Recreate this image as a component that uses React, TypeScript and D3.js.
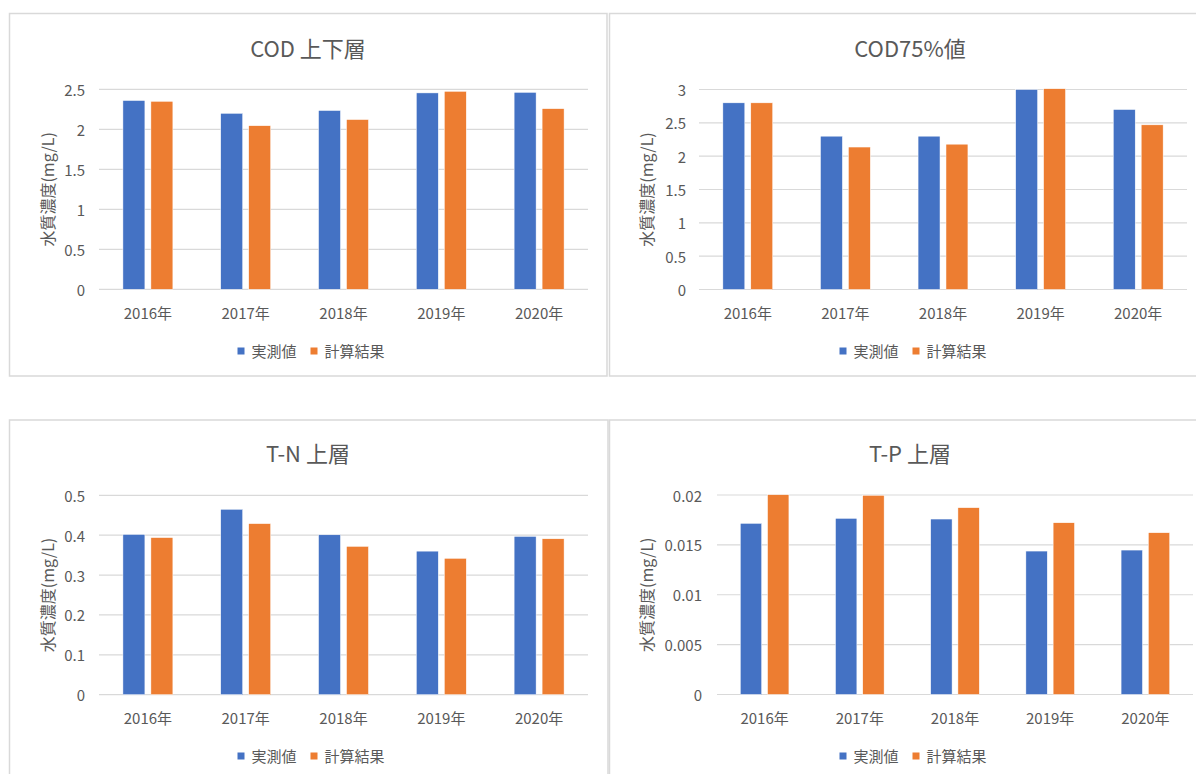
import React from 'react';
import * as d3 from 'd3';

// Categories and series
const years = ['2016年', '2017年', '2018年', '2019年', '2020年'];
const seriesNames = ['実測値', '計算結果'];
const seriesColors = ['#4472C4', '#ED7D31'];

// COD (upper and lower layers)
const codLayersObs = [2.36, 2.2, 2.235, 2.455, 2.462];
const codLayersCalc = [2.35, 2.045, 2.122, 2.475, 2.258];
// COD 75% value
const cod75Obs = [2.8, 2.3, 2.3, 3.0, 2.7];
const cod75Calc = [2.8, 2.137, 2.18, 3.012, 2.47];
// T-N upper layer
const tnObs = [0.402, 0.465, 0.401, 0.36, 0.397];
const tnCalc = [0.394, 0.429, 0.372, 0.342, 0.391];
// T-P upper layer
const tpObs = [0.01716, 0.01766, 0.01759, 0.01438, 0.01448];
const tpCalc = [0.02003, 0.01997, 0.01873, 0.01722, 0.01622];

const yTitle = '水質濃度(mg/L)';
const FONT = '"Noto Sans CJK JP", "Noto Sans", sans-serif';
const TEXT = '#595959';
const GRID = '#d9d9d9';

type PanelProps = {
  title: string;
  obs: number[];
  calc: number[];
  max: number;
  step: number;
  frame: { x: number; y: number; w: number; h: number };
  plot: { left: number; right: number; top: number; bottom: number };
  centerX: number;
  titleY: number;
  tickRight: number;
  yLabelX: number;
  catY: number;
  legendY: number;
};

function Panel(p: PanelProps) {
  const y = d3.scaleLinear().domain([0, p.max]).range([p.plot.bottom, p.plot.top]);
  const x0 = d3
    .scaleBand<string>()
    .domain(years)
    .range([p.plot.left, p.plot.right])
    .paddingInner(0.489)
    .paddingOuter(0.2445);
  const x1 = d3
    .scaleBand<string>()
    .domain(seriesNames)
    .range([0, x0.bandwidth()])
    .paddingInner(0.214);
  const ticks = d3.range(0, p.max + p.step / 2, p.step);
  const fmt = (v: number) => String(+v.toFixed(4));
  const values = [p.obs, p.calc];
  const fs = 15;

  // legend layout: square, gap, text, spacing
  const sq = 7;
  const gapText = 7;
  const gapItem = 14;
  const widths = seriesNames.map((s) => s.length * fs);
  const total = widths.reduce((a, w) => a + sq + gapText + w, 0) + gapItem;
  let lx = p.centerX + 3 - total / 2;
  const items = seriesNames.map((s, i) => {
    const start = lx;
    lx += sq + gapText + widths[i] + gapItem;
    return { s, start, color: seriesColors[i] };
  });

  return (
    <g>
      <rect
        x={p.frame.x}
        y={p.frame.y}
        width={p.frame.w}
        height={p.frame.h}
        fill="#fff"
        stroke={GRID}
        strokeWidth={1.5}
      />
      <text
        x={p.centerX}
        y={p.titleY}
        textAnchor="middle"
        dominantBaseline="central"
        fontSize={22}
        fill={TEXT}
        fontFamily={FONT}
      >
        {p.title}
      </text>
      {ticks.map((t) => (
        <g key={t}>
          <line
            x1={p.plot.left}
            x2={p.plot.right}
            y1={y(t)}
            y2={y(t)}
            stroke={GRID}
            strokeWidth={1.2}
          />
          <text
            x={p.tickRight}
            y={y(t)}
            textAnchor="end"
            dominantBaseline="central"
            fontSize={fs}
            fill={TEXT}
            fontFamily={FONT}
          >
            {fmt(t)}
          </text>
        </g>
      ))}
      {years.map((yr, i) => (
        <g key={yr}>
          {seriesNames.map((s, j) => (
            <rect
              key={s}
              x={(x0(yr) as number) + (x1(s) as number)}
              y={y(values[j][i])}
              width={x1.bandwidth()}
              height={y(0) - y(values[j][i])}
              fill={seriesColors[j]}
              stroke="#fff"
              strokeWidth={0.5}
            />
          ))}
          <text
            x={(x0(yr) as number) + x0.bandwidth() / 2}
            y={p.catY}
            textAnchor="middle"
            dominantBaseline="central"
            fontSize={fs}
            fill={TEXT}
            fontFamily={FONT}
          >
            {yr}
          </text>
        </g>
      ))}
      <text
        transform={`translate(${p.yLabelX},${(p.plot.top + p.plot.bottom) / 2}) rotate(-90)`}
        textAnchor="middle"
        dominantBaseline="central"
        fontSize={16}
        fill={TEXT}
        fontFamily={FONT}
      >
        {yTitle}
      </text>
      {items.map((it) => (
        <g key={it.s}>
          <rect x={it.start} y={p.legendY - sq / 2 + 1} width={sq} height={sq} fill={it.color} />
          <text
            x={it.start + sq + gapText}
            y={p.legendY}
            dominantBaseline="central"
            fontSize={fs}
            fill={TEXT}
            fontFamily={FONT}
          >
            {it.s}
          </text>
        </g>
      ))}
    </g>
  );
}

export default function App() {
  return (
    <svg
      width={1196}
      height={774}
      style={{ position: 'absolute', left: 0, top: 0, background: '#fff' }}
    >
      <rect x={0} y={0} width={1196} height={774} fill="#fff" />
      <Panel
        title="COD 上下層"
        obs={codLayersObs}
        calc={codLayersCalc}
        max={2.5}
        step={0.5}
        frame={{ x: 9.5, y: 13.5, w: 597.5, h: 362.5 }}
        plot={{ left: 99, right: 588, top: 89.3, bottom: 289.3 }}
        centerX={308}
        titleY={47}
        tickRight={85}
        yLabelX={47}
        catY={312}
        legendY={350}
      />
      <Panel
        title="COD75%値"
        obs={cod75Obs}
        calc={cod75Calc}
        max={3}
        step={0.5}
        frame={{ x: 609.5, y: 13.5, w: 602, h: 362.5 }}
        plot={{ left: 699, right: 1187, top: 89.5, bottom: 289.5 }}
        centerX={910}
        titleY={47}
        tickRight={686}
        yLabelX={646}
        catY={312}
        legendY={350}
      />
      <Panel
        title="T-N 上層"
        obs={tnObs}
        calc={tnCalc}
        max={0.5}
        step={0.1}
        frame={{ x: 9.5, y: 420, w: 598.5, h: 400 }}
        plot={{ left: 99, right: 588, top: 495.3, bottom: 694.7 }}
        centerX={308}
        titleY={452}
        tickRight={85}
        yLabelX={47}
        catY={717}
        legendY={755}
      />
      <Panel
        title="T-P 上層"
        obs={tpObs}
        calc={tpCalc}
        max={0.02}
        step={0.005}
        frame={{ x: 609.5, y: 420, w: 602, h: 400 }}
        plot={{ left: 717, right: 1193, top: 495, bottom: 694.5 }}
        centerX={910}
        titleY={452}
        tickRight={702}
        yLabelX={646}
        catY={717}
        legendY={755}
      />
    </svg>
  );
}
